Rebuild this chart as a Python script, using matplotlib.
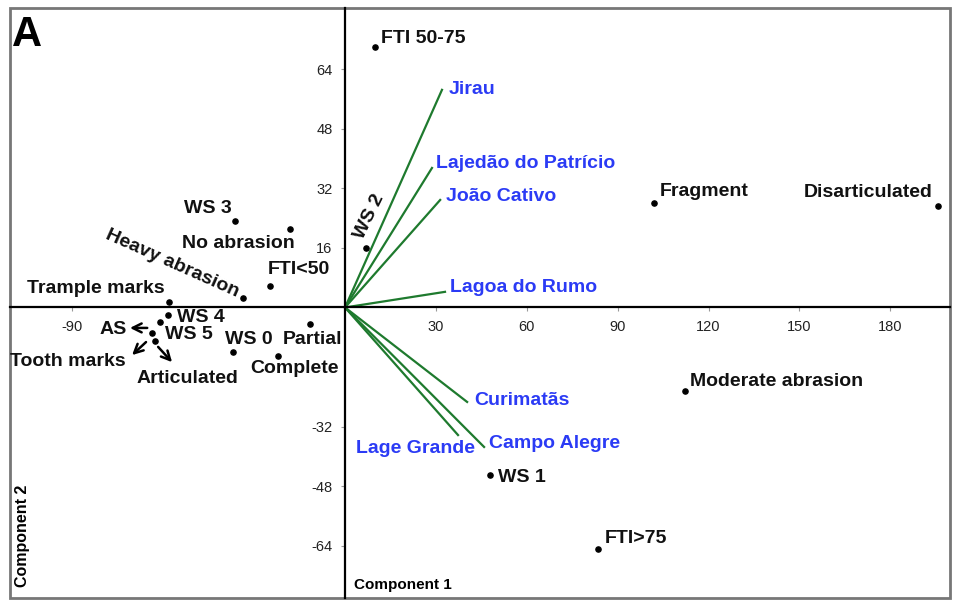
import matplotlib.pyplot as plt
from matplotlib.patches import Rectangle

plt.rcParams['font.family'] = ['Liberation Sans', 'DejaVu Sans']

# variable scores (black points)
pt_names = ["FTI 50-75", "WS 2", "Fragment", "Disarticulated", "Moderate abrasion",
            "WS 1", "FTI>75", "WS 3", "No abrasion", "FTI<50", "Heavy abrasion",
            "Trample marks", "WS 4", "WS 5", "Partial", "WS 0", "Complete",
            "AS", "Articulated"]
pt_x = [9.9, 6.9, 102.0, 195.7, 112.2, 47.9, 83.5, -36.3, -18.2, -24.8, -33.7,
        -58.1, -58.4, -61.1, -11.6, -37.0, -22.1, -63.7, -62.7]
pt_y = [70.0, 16.0, 28.1, 27.3, -22.4, -45.0, -64.9, 23.3, 21.1, 5.8, 2.6,
        1.5, -2.0, -3.9, -4.4, -12.0, -13.0, -6.9, -9.0]

# site loadings (green vectors)
sites = ["Jirau", "Lajedão do Patrício", "João Cativo", "Lagoa do Rumo",
         "Curimatãs", "Campo Alegre", "Lage Grande"]
site_x = [32.0, 28.7, 31.4, 33.0, 40.3, 45.9, 37.3]
site_y = [58.5, 37.5, 28.9, 4.2, -25.4, -37.5, -34.3]

xticks = [-90, 30, 60, 90, 120, 150, 180]
yticks = [64, 48, 32, 16, -32, -48, -64]

fig = plt.figure(figsize=(9.6, 6.01), dpi=100)
ax = fig.add_axes([10/960, 3/601, 940/960, 590/601])
ax.set_xlim(-110.6, 199.7)
ax.set_ylim(-78.1, 80.5)

ax.spines['left'].set_position(('data', 0))
ax.spines['bottom'].set_position(('data', 0))
ax.spines['top'].set_visible(False)
ax.spines['right'].set_visible(False)
ax.spines['left'].set_linewidth(1.6)
ax.spines['bottom'].set_linewidth(1.6)
ax.add_patch(Rectangle((0, 0), 1, 1, transform=ax.transAxes, fill=False,
                       edgecolor='#777777', linewidth=2, clip_on=False))

ax.set_xticks(xticks)
ax.set_yticks(yticks)
ax.set_xticklabels([str(t) for t in xticks], fontsize=10.5, color='#222222')
ax.set_yticklabels([str(t) for t in yticks], fontsize=10.5, color='#222222')
ax.tick_params(axis='both', length=3, width=0.8, color='#999999', pad=6)

for sx, sy in zip(site_x, site_y):
    ax.plot([0, sx], [0, sy], color='#1e7a2e', linewidth=1.6)

ax.scatter(pt_x, pt_y, s=14, color='black', zorder=3)

blue = '#2b3bf5'
tk = dict(fontsize=14, fontweight='bold', color=blue, va='center')
ax.text(34.3, 58.7, "Jirau", ha='left', **tk)
ax.text(30.0, 38.8, "Lajedão do Patrício", ha='left', **tk)
ax.text(33.3, 29.7, "João Cativo", ha='left', **tk)
ax.text(34.7, 5.5, "Lagoa do Rumo", ha='left', **tk)
ax.text(42.6, -25.1, "Curimatãs", ha='left', **tk)
ax.text(47.5, -36.7, "Campo Alegre", ha='left', **tk)
ax.text(3.6, -37.8, "Lage Grande", ha='left', **tk)

bk = dict(fontsize=14, fontweight='bold', color='#111111', va='center')
ax.text(11.9, 72.4, "FTI 50-75", ha='left', **bk)
ax.text(7.9, 24.3, "WS 2", ha='center', rotation=64, **bk)
ax.text(104, 31.3, "Fragment", ha='left', **bk)
ax.text(194, 30.8, "Disarticulated", ha='right', **bk)
ax.text(113.9, -19.8, "Moderate abrasion", ha='left', **bk)
ax.text(50.5, -45.8, "WS 1", ha='left', **bk)
ax.text(85.8, -62.2, "FTI>75", ha='left', **bk)
ax.text(-53.1, 26.7, "WS 3", ha='left', **bk)
ax.text(-53.8, 17.3, "No abrasion", ha='left', **bk)
ax.text(-25.4, 10.1, "FTI<50", ha='left', **bk)
ax.text(-57.0, 11.8, "Heavy abrasion", ha='center', rotation=-24, **bk)
ax.text(-59.4, 5.0, "Trample marks", ha='right', **bk)
ax.text(-55.4, -2.8, "WS 4", ha='left', **bk)
ax.text(-59.4, -7.4, "WS 5", ha='left', **bk)
ax.text(-39.6, -8.7, "WS 0", ha='left', **bk)
ax.text(-20.5, -8.7, "Partial", ha='left', **bk)
ax.text(-31.4, -16.3, "Complete", ha='left', **bk)
ax.text(-72.0, -6.0, "AS", ha='right', **bk)
ax.text(-72.4, -14.4, "Tooth marks", ha='right', **bk)
ax.text(-52.1, -19.0, "Articulated", ha='center', **bk)

arr = dict(arrowstyle='->', color='black', linewidth=1.8, mutation_scale=16,
           shrinkA=0, shrinkB=0)
ax.annotate('', xy=(-71.0, -5.5), xytext=(-65.3, -5.5), arrowprops=arr)
ax.annotate('', xy=(-70.3, -12.8), xytext=(-65.7, -9.3), arrowprops=arr)
ax.annotate('', xy=(-57.1, -14.7), xytext=(-61.7, -10.6), arrowprops=arr)

ax.text(3.0, -74.5, "Component 1", fontsize=11, fontweight='bold', ha='left', va='center')
ax.text(-106.6, -61.4, "Component 2", fontsize=11.5, fontweight='bold', rotation=90,
        ha='center', va='center')
ax.text(-109.8, 73.3, "A", fontsize=30, fontweight='bold', ha='left', va='center')

fig.savefig("out.png", dpi=100)
